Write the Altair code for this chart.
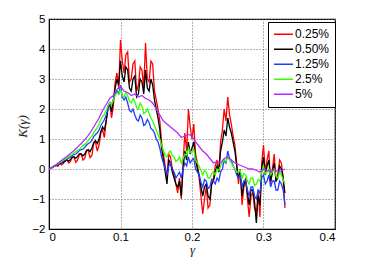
import altair as alt
import pandas as pd

# fine grid (step 0.0025) for the noisy series, coarse grid (0.005) for the 5% series
gamma_fine = [round(i * 0.0025, 4) for i in range(133)]
gamma_coarse = [round(i * 0.005, 3) for i in range(67)]

series_names = ["0.25%", "0.50%", "1.25%", "2.5%", "5%"]
series_colors = ["#ff0000", "#000000", "#1f3fff", "#33ff00", "#b22cff"]

x_ticks = [0, 0.1, 0.2, 0.3, 0.4]
y_ticks = [-2, -1, 0, 1, 2, 3, 4, 5]

k_025 = [0, 0.02, 0.05, 0.1, 0.12, 0.09, 0.2, 0.14, 0.18, 0.28, 0.3, 0.2, 0.25, 0.42, 0.4, 0.22,
         0.3, 0.48, 0.5, 0.3, 0.35, 0.62, 0.6, 0.38, 0.45, 0.85, 0.9, 0.6, 0.8, 1.2, 1.3, 1.05,
         1.6, 2.1, 2.2, 1.7, 2.1, 2.9, 3.2, 2.7, 4.3, 3.6, 3.2, 3.8, 3.9, 2.9, 3.0, 3.5,
         3.6, 2.6, 2.8, 3.4, 3.3, 2.7, 4.2, 3.0, 2.9, 3.6, 3.5, 2.6, 2.3, 2.0, 1.6, 0.9,
         0.5, 0.1, -0.3, 0.5, 0.4, 0.0, -0.2, -0.5, -0.8, -0.3, -1.0, 0.2, 1.2, 0.6, 2.0, 1.4,
         1.0, 1.5, 0.5, 0.2, -0.3, -0.9, -1.5, -1.0, -0.6, -1.3, -1.2, -0.5, -0.3, 0.1, 0.3, -0.1,
         0.9, 1.3, 2.0, 1.6, 2.4, 1.8, 1.5, 1.1, 0.8, 0.2, -0.5, 0.0, -1.2, -0.6, -0.3, -1.0,
         -1.6, -0.9, -0.8, -1.3, -1.5, -0.7, -1.6, 0.2, 0.8, -0.1, 0.3, 0.6, -0.5, 0.0, 0.5, -0.4,
         -0.2, 0.3, 0.2, -0.3, -1.3]
k_050 = [0, 0.03, 0.05, 0.09, 0.12, 0.14, 0.18, 0.2, 0.22, 0.26, 0.3, 0.27, 0.32, 0.38, 0.4, 0.36,
         0.42, 0.5, 0.5, 0.44, 0.5, 0.62, 0.65, 0.58, 0.7, 0.88, 0.95, 0.85, 1.0, 1.25, 1.4, 1.3,
         1.6, 2.0, 2.2, 1.9, 2.3, 2.7, 3.0, 2.8, 3.6, 3.1, 2.9, 3.4, 3.3, 2.7, 2.6, 3.0,
         3.1, 2.4, 2.5, 3.0, 2.9, 2.5, 3.3, 2.7, 2.6, 3.0, 2.8, 2.3, 2.0, 1.7, 1.3, 0.7,
         0.3, -0.1, -0.5, 0.3, 0.2, -0.1, -0.3, -0.5, -0.6, -0.4, -0.9, 0.0, 0.6, 0.3, 0.9, 0.5,
         0.7, 0.9, 0.3, 0.0, -0.2, -0.6, -0.9, -0.6, -0.5, -0.9, -1.0, -0.5, -0.4, -0.1, 0.1, -0.1,
         0.6, 0.9, 1.3, 1.1, 1.7, 1.4, 1.2, 0.9, 0.6, 0.1, -0.3, -0.1, -0.9, -0.5, -0.4, -0.8,
         -1.2, -0.7, -0.7, -1.1, -1.8, -0.9, -1.2, 0.0, 0.4, -0.2, 0.1, 0.3, -0.4, -0.1, 0.2, -0.4,
         -0.3, 0.1, 0.0, -0.3, -0.8]
k_125 = [0, 0.03, 0.06, 0.1, 0.13, 0.16, 0.2, 0.22, 0.26, 0.3, 0.33, 0.36, 0.4, 0.45, 0.48, 0.5,
         0.55, 0.62, 0.65, 0.66, 0.72, 0.8, 0.85, 0.88, 0.95, 1.08, 1.15, 1.2, 1.3, 1.45, 1.55, 1.65,
         1.8, 2.0, 2.1, 2.15, 2.3, 2.5, 2.6, 2.5, 2.8, 2.4, 2.3, 2.4, 2.2, 1.95, 1.9, 2.0,
         1.8, 1.65, 1.6, 1.8, 1.7, 1.45, 1.5, 1.65, 1.55, 1.35, 1.3, 1.2, 1.0, 0.9, 0.7, 0.4,
         0.2, 0.0, -0.2, 0.1, 0.2, 0.0, -0.1, -0.3, -0.2, -0.1, -0.3, 0.0, 0.2, 0.1, 0.4, 0.2,
         0.3, 0.35, 0.0, -0.1, -0.2, -0.45, -0.6, -0.35, -0.4, -0.65, -0.6, -0.35, -0.4, -0.5, -0.3, -0.4,
         -0.1, 0.0, 0.3, 0.2, 0.6, 0.35, 0.3, 0.1, 0.0, -0.2, -0.3, -0.2, -0.6, -0.4, -0.4, -0.7,
         -0.9, -0.6, -0.6, -0.9, -1.0, -0.7, -0.8, -0.3, -0.2, -0.5, -0.4, -0.2, -0.6, -0.4, -0.4, -0.7,
         -0.7, -0.4, -0.5, -0.7, -1.2]
k_25 = [0, 0.03, 0.07, 0.11, 0.14, 0.18, 0.22, 0.25, 0.3, 0.33, 0.37, 0.42, 0.45, 0.48, 0.53, 0.58,
        0.62, 0.66, 0.72, 0.78, 0.82, 0.88, 0.95, 1.03, 1.1, 1.22, 1.3, 1.38, 1.5, 1.65, 1.75, 1.82,
        1.95, 2.1, 2.2, 2.15, 2.3, 2.45, 2.55, 2.5, 2.65, 2.45, 2.4, 2.55, 2.45, 2.25, 2.2, 2.35,
        2.25, 2.05, 2.0, 2.2, 2.1, 1.85, 1.9, 2.0, 1.85, 1.7, 1.6, 1.45, 1.3, 1.15, 1.0, 0.8,
        0.6, 0.45, 0.4, 0.55, 0.6, 0.45, 0.4, 0.25, 0.3, 0.4, 0.2, 0.35, 0.5, 0.45, 0.7, 0.55,
        0.6, 0.65, 0.3, 0.2, 0.1, -0.05, -0.2, -0.05, -0.1, -0.3, -0.3, -0.15, -0.1, -0.2, 0.0, -0.05,
        0.1, 0.2, 0.3, 0.25, 0.4, 0.3, 0.2, 0.1, 0.0, -0.1, -0.1, -0.05, -0.3, -0.15, -0.2, -0.4,
        -0.5, -0.3, -0.3, -0.55, -0.5, -0.35, -0.4, -0.1, 0.1, -0.15, -0.1, 0.0, -0.2, -0.1, 0.0, -0.25,
        -0.3, -0.1, -0.2, -0.35, -0.5]
k_5 = [0, 0.07, 0.15, 0.24, 0.33, 0.42, 0.52, 0.62, 0.73, 0.85, 0.98, 1.12, 1.3, 1.5, 1.7, 1.95,
       2.15, 2.35, 2.45, 2.65, 2.75, 2.6, 2.55, 2.45, 2.5, 2.4, 2.45, 2.35, 2.3, 2.2, 2.0, 1.8,
       1.6, 1.5, 1.4, 1.3, 1.2, 1.05, 1.1, 1.15, 1.1, 0.9, 0.75, 0.6, 0.5, 0.35, 0.2,
       0.25, 0.2, 0.35, 0.4, 0.3, 0.2, 0.15, 0.1, 0.05, 0.0, 0.0, -0.05, -0.1, 0.0, -0.05,
       -0.1, 0.0, -0.1, -0.05, 0.0]

all_series = [(k_025, gamma_fine), (k_050, gamma_fine), (k_125, gamma_fine),
              (k_25, gamma_fine), (k_5, gamma_coarse)]

color = alt.Color(
    "series:N",
    scale=alt.Scale(domain=series_names, range=series_colors),
    legend=alt.Legend(
        title=None, orient="none", legendX=219, legendY=3,
        strokeColor="black", fillColor="white", padding=5,
        symbolType="stroke", symbolSize=361, symbolStrokeWidth=1.5,
        labelFont="Liberation Sans", labelFontSize=12, labelColor="black",
        labelOffset=1, rowPadding=0, clipHeight=14.7,
    ),
)

x_enc = alt.X(
    "gamma:Q",
    scale=alt.Scale(domain=[0, 0.4], nice=False),
    axis=alt.Axis(
        values=x_ticks, title="γ", grid=True,
        labelExpr="datum.value == 0 ? '0' : format(datum.value, '.1f')",
        gridDash=[1, 2], gridColor="#666", ticks=False,
        labelFont="Liberation Sans", labelFontSize=11.5, labelColor="black", labelPadding=2,
        titleFont="Liberation Serif", titleFontStyle="italic", titleFontWeight="normal",
        titleFontSize=13, titleColor="#222", titlePadding=1,
        domainColor="black",
    ),
)
y_enc = alt.Y(
    "k:Q",
    scale=alt.Scale(domain=[-2, 5], nice=False),
    axis=alt.Axis(
        values=y_ticks, title="K(γ)", grid=True,
        gridDash=[1, 2], gridColor="#666", ticks=False,
        labelFont="Liberation Sans", labelFontSize=11.5, labelColor="black", labelPadding=4,
        titleFont="Liberation Serif", titleFontStyle="italic", titleFontWeight="normal",
        titleFontSize=13, titleColor="#222", titleX=-27, titleY=107,
        titleBaseline="middle", domainColor="black",
    ),
)

layers = []
for name, (vals, xs) in zip(series_names, all_series):
    df = pd.DataFrame({"gamma": xs, "k": vals, "series": name})
    layers.append(
        alt.Chart(df).mark_line(strokeWidth=1.3).encode(x=x_enc, y=y_enc, color=color)
    )

chart = alt.layer(*layers).properties(
    width=286, height=210,
    autosize=alt.AutoSizeParams(type="none"),
    padding={"left": 41, "top": 11, "right": 10, "bottom": 28},
).configure_view(stroke="black", strokeWidth=1.2)

chart.save("out.html", embed_options={"renderer": "svg", "actions": False})
